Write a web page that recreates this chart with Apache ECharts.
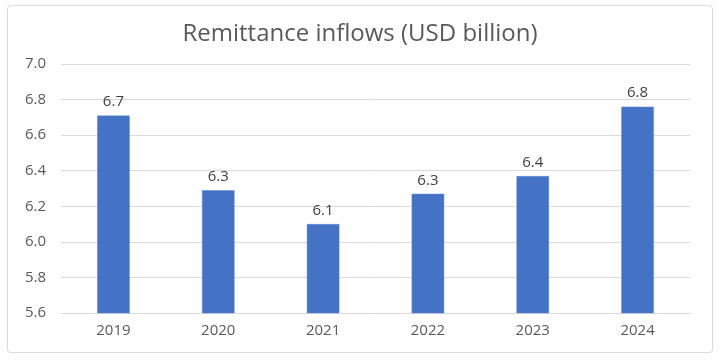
<!DOCTYPE html>
<html><head><meta charset="utf-8">
<script src="https://cdn.jsdelivr.net/npm/echarts@6/dist/echarts.min.js"></script>
<style>html,body{margin:0;padding:0;background:#fff}#c{width:720px;height:360px}</style>
</head><body><div id="c"></div>
<script>
const titleText = 'Remittance inflows (USD billion)';
const years = ['2019','2020','2021','2022','2023','2024'];
const inflows = [6.71, 6.29, 6.10, 6.27, 6.37, 6.76];
const labelsShown = ['6.7','6.3','6.1','6.3','6.4','6.8'];

const chart = echarts.init(document.getElementById('c'), null, {renderer:'canvas'});
chart.setOption({
  animation:false,
  backgroundColor:'#fff',
  title:{text:titleText,left:'center',top:17,textStyle:{fontFamily:'Open Sans',fontSize:24,fontWeight:'normal',color:'#595959'}},
  graphic:[{type:'rect',shape:{x:7.5,y:5.5,width:705,height:347,r:3},style:{fill:'none',stroke:'#d9d9d9',lineWidth:1},z:-1}],
  grid:{left:61,right:30,top:64,bottom:47},
  xAxis:{type:'category',data:years,
    axisLine:{show:true,lineStyle:{color:'#d9d9d9'}},axisTick:{show:false},
    axisLabel:{color:'#595959',fontFamily:'Open Sans',fontSize:15,margin:10}},
  yAxis:{type:'value',min:5.6,max:7.0,interval:0.2,
    axisLine:{show:false},axisTick:{show:false},
    splitLine:{lineStyle:{color:'#d9d9d9'}},
    axisLabel:{color:'#595959',fontFamily:'Open Sans',fontSize:15,margin:15,formatter:v=>v.toFixed(1)}},
  series:[{type:'bar',data:inflows,barWidth:'31%',
    itemStyle:{color:'#4472c4',borderColor:'#5b86d0',borderWidth:0.5},
    label:{show:true,position:'top',distance:6,color:'#404040',fontFamily:'Open Sans',fontSize:15,
      formatter:p=>labelsShown[p.dataIndex]}}]
});
</script></body></html>
